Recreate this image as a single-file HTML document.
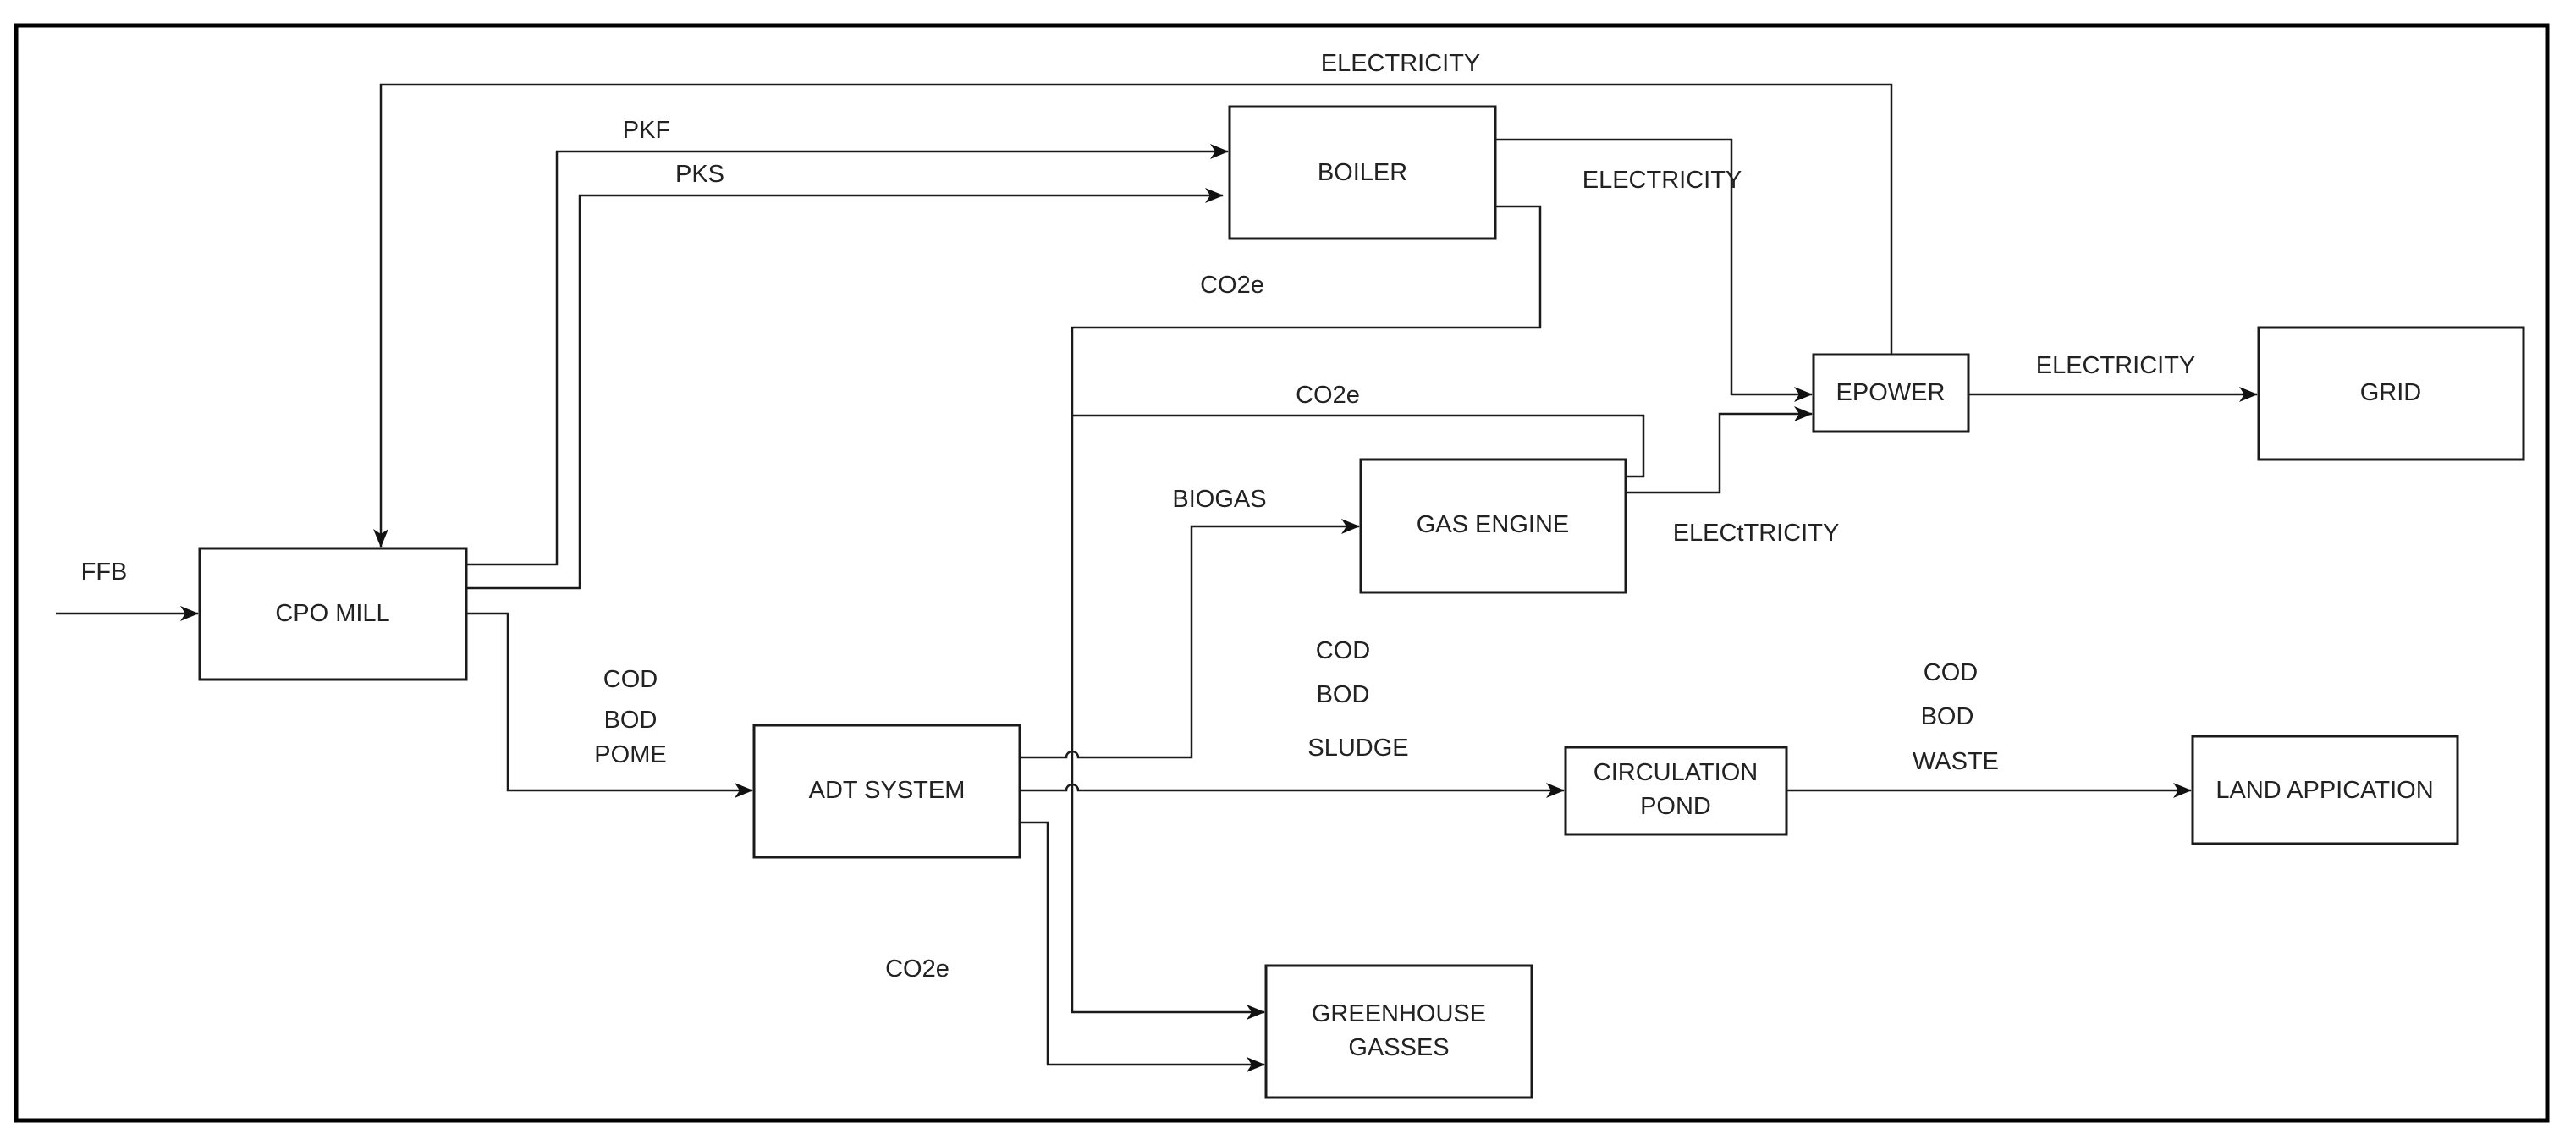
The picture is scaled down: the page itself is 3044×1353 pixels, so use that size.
<!DOCTYPE html>
<html><head><meta charset="utf-8"><style>
html,body{margin:0;padding:0;background:#fff;}
svg{display:block;}
text{font-family:"Liberation Sans",Arial,sans-serif;font-size:29px;fill:#222;dominant-baseline:central;text-anchor:middle;}
</style></head><body>
<svg width="3044" height="1353" viewBox="0 0 3044 1353" xmlns="http://www.w3.org/2000/svg">
<defs>
<marker id="a" markerWidth="22" markerHeight="22" refX="21" refY="11" orient="auto" markerUnits="userSpaceOnUse">
<path d="M0,2 L22,11 L0,20 L6,11 Z" fill="#111"/>
</marker>
</defs>
<rect x="19" y="30" width="2991" height="1294" fill="none" stroke="#000" stroke-width="5"/>
<g fill="none" stroke="#1a1a1a" stroke-width="3">
<rect x="236" y="648" width="315" height="155"/>
<rect x="1453" y="126" width="314" height="156"/>
<rect x="1608" y="543" width="313" height="157"/>
<rect x="2143" y="419" width="183" height="91"/>
<rect x="2669" y="387" width="313" height="156"/>
<rect x="891" y="857" width="314" height="156"/>
<rect x="1850" y="883" width="261" height="103"/>
<rect x="2591" y="870" width="313" height="127"/>
<rect x="1496" y="1141" width="314" height="156"/>
</g>
<g fill="none" stroke="#1a1a1a" stroke-width="2.5">
<path d="M66,725 H234" marker-end="url(#a)"/>
<path d="M2235,419 V100 H450 V646" marker-end="url(#a)"/>
<path d="M551,667 H658 V179 H1451" marker-end="url(#a)"/>
<path d="M551,695 H685 V231 H1445" marker-end="url(#a)"/>
<path d="M1767,244 H1820 V387 H1267 V1196 H1494" marker-end="url(#a)"/>
<path d="M1267,491 H1942 V563 H1922"/>
<path d="M1205,895 H1260 A7,7 0 0 1 1274,895 H1408 V622 H1606" marker-end="url(#a)"/>
<path d="M1921,582 H2032 V489 H2141" marker-end="url(#a)"/>
<path d="M1767,165 H2046 V466 H2141" marker-end="url(#a)"/>
<path d="M2326,466 H2667" marker-end="url(#a)"/>
<path d="M551,725 H600 V934 H889" marker-end="url(#a)"/>
<path d="M1205,934 H1260 A7,7 0 0 1 1274,934 H1848" marker-end="url(#a)"/>
<path d="M2111,934 H2589" marker-end="url(#a)"/>
<path d="M1205,972 H1238 V1258 H1494" marker-end="url(#a)"/>
</g>
<text x="123" y="676">FFB</text>
<text x="1655" y="75">ELECTRICITY</text>
<text x="764" y="154">PKF</text>
<text x="827" y="206">PKS</text>
<text x="1456" y="337">CO2e</text>
<text x="1964" y="213">ELECTRICITY</text>
<text x="1569" y="467">CO2e</text>
<text x="1441" y="590">BIOGAS</text>
<text x="2075" y="630">ELECtTRICITY</text>
<text x="2500" y="432">ELECTRICITY</text>
<text x="745" y="803">COD</text>
<text x="745" y="851">BOD</text>
<text x="745" y="892">POME</text>
<text x="1587" y="769">COD</text>
<text x="1587" y="821">BOD</text>
<text x="1605" y="884">SLUDGE</text>
<text x="2305" y="795">COD</text>
<text x="2301" y="847">BOD</text>
<text x="2311" y="900">WASTE</text>
<text x="1084" y="1145">CO2e</text>
<text x="393" y="725">CPO MILL</text>
<text x="1610" y="204">BOILER</text>
<text x="1764" y="620">GAS ENGINE</text>
<text x="2234" y="464">EPOWER</text>
<text x="2825" y="464">GRID</text>
<text x="1048" y="934">ADT SYSTEM</text>
<text x="1980" y="913">CIRCULATION</text>
<text x="1980" y="953">POND</text>
<text x="2747" y="934">LAND APPICATION</text>
<text x="1653" y="1198">GREENHOUSE</text>
<text x="1653" y="1238">GASSES</text>
</svg>
</body></html>
